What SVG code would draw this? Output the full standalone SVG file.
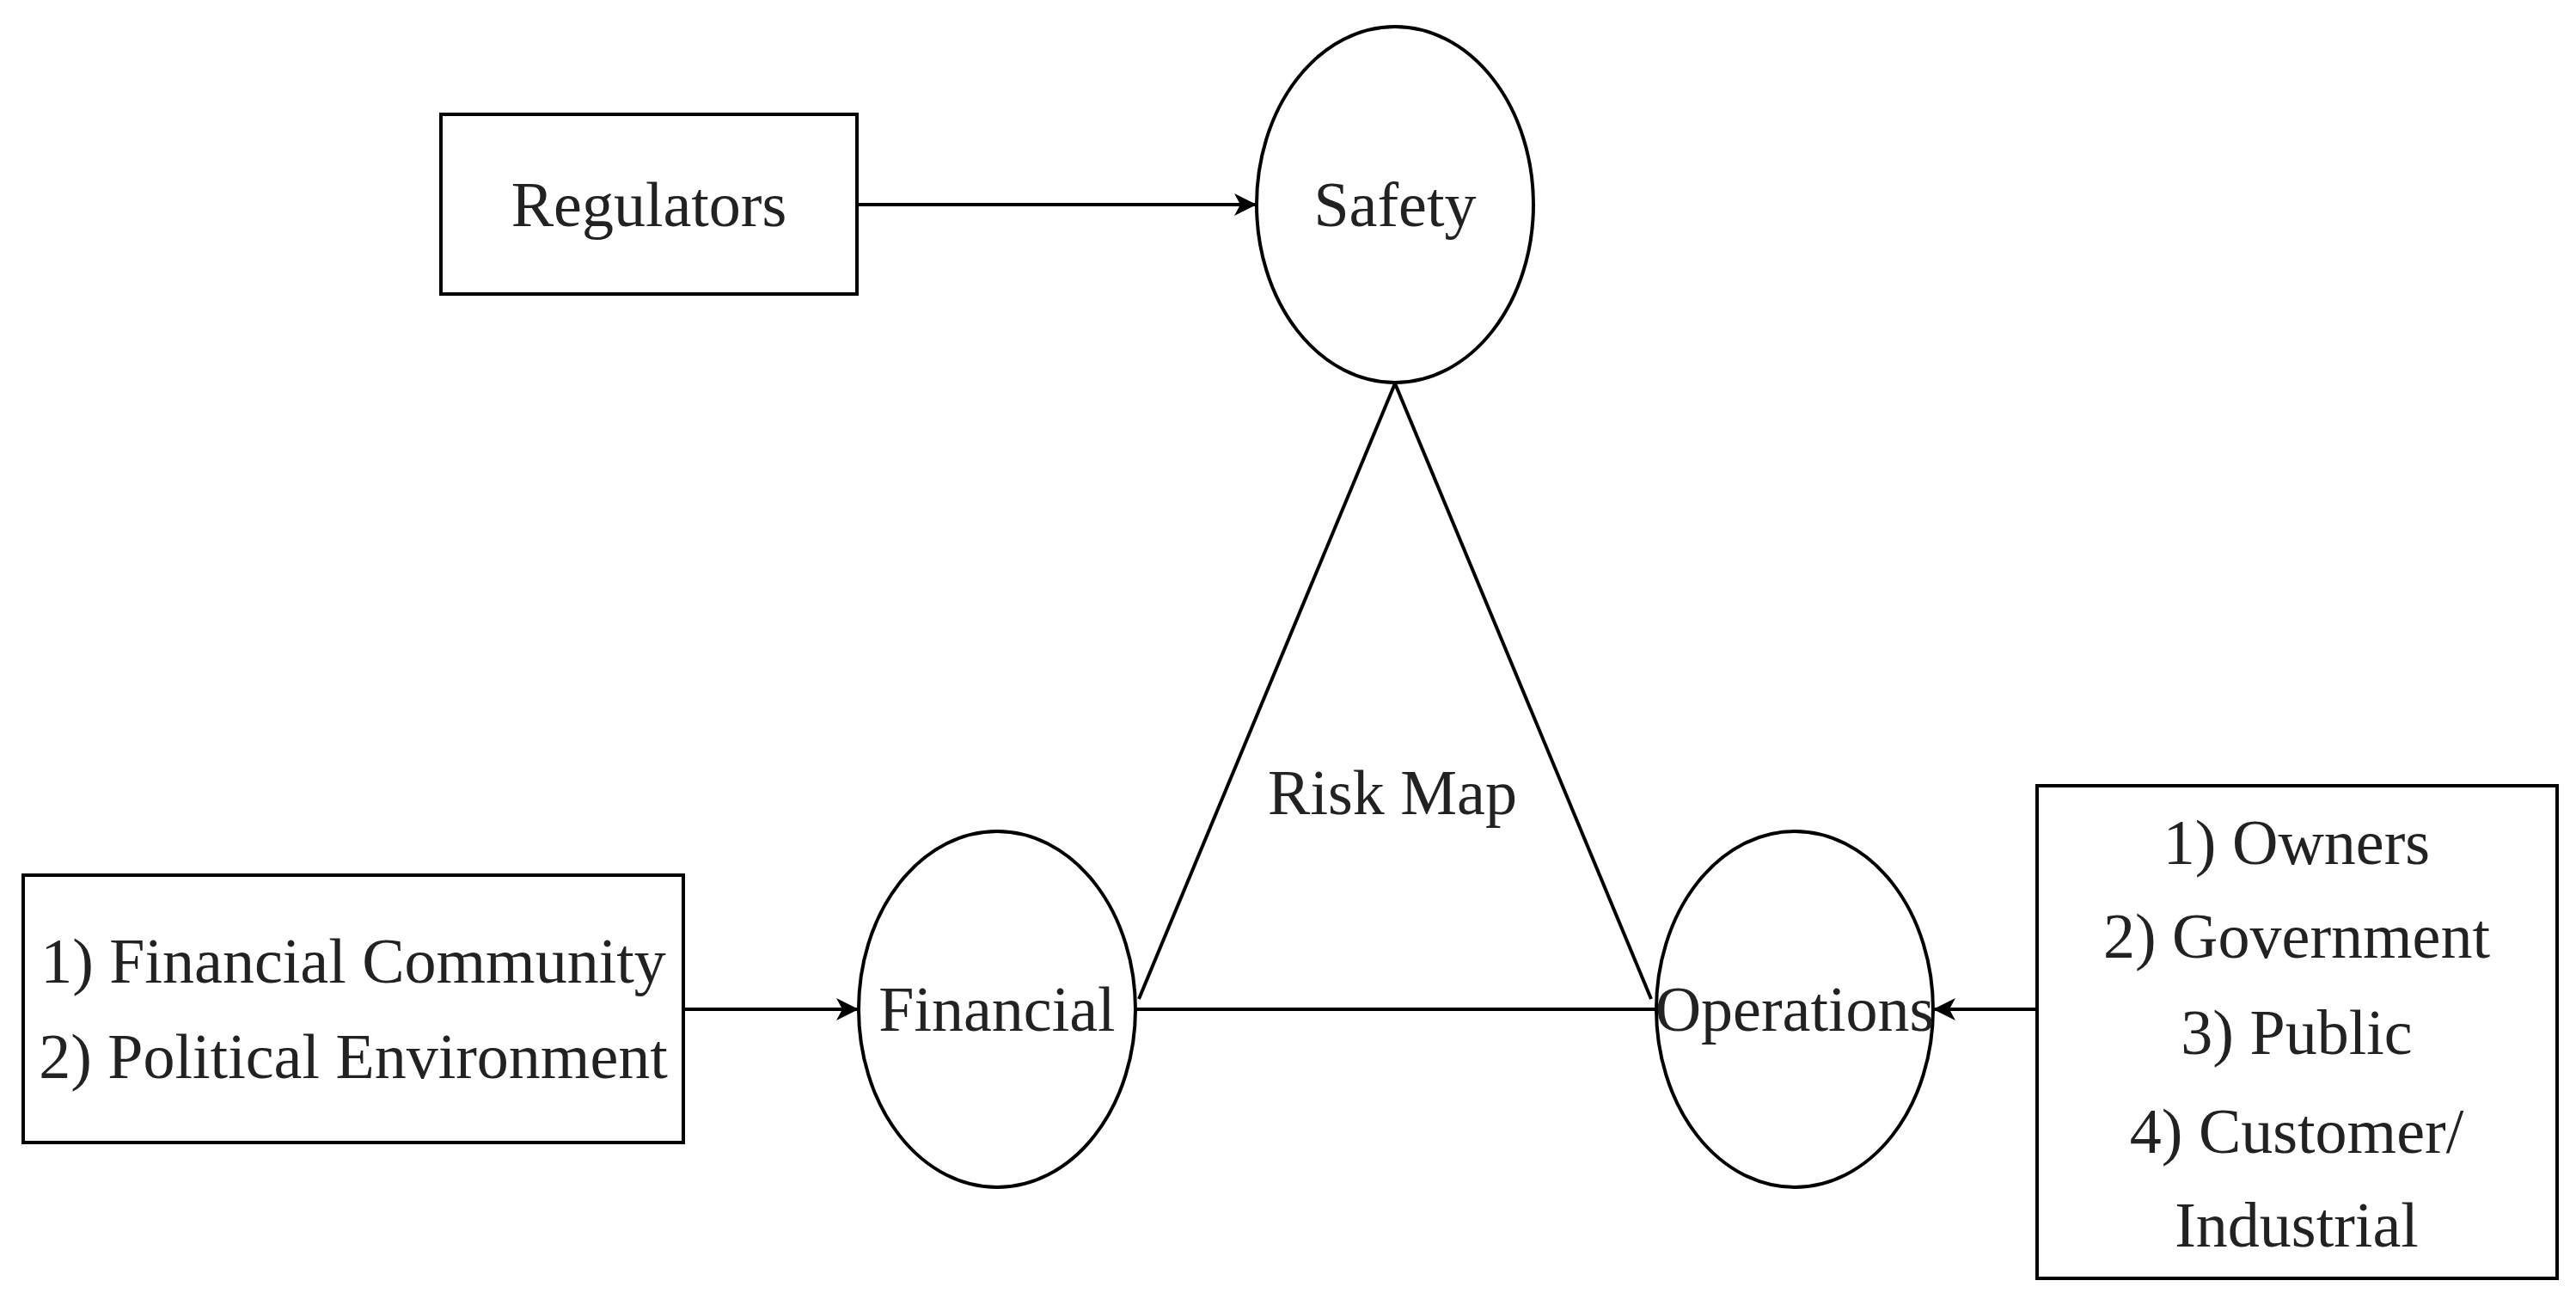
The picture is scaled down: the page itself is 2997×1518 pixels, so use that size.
<svg xmlns="http://www.w3.org/2000/svg" width="2997" height="1518" viewBox="0 0 2997 1518">
<style>
.n{fill:#fff;stroke:#000;stroke-width:4}
.t{font-family:"Liberation Serif",serif;font-size:74px;fill:#222;text-anchor:middle;dominant-baseline:central}
.c{stroke:#000;stroke-width:4;fill:none}
</style>
<defs><marker id="a" markerWidth="10" markerHeight="10" refX="9" refY="5" orient="auto" markerUnits="userSpaceOnUse" viewBox="0 0 10 10"><path d="M0,0 L10,5 L0,10 L3,5 Z" fill="#000" transform="scale(1)"/></marker>
<marker id="b" markerWidth="26" markerHeight="26" refX="24" refY="13" orient="auto" markerUnits="userSpaceOnUse"><path d="M0,0 L26,13 L0,26 L7,13 Z" fill="#000"/></marker></defs>
<rect width="2997" height="1518" fill="#fff"/>
<g id="connectors">
<line class="c" x1="1623" y1="446" x2="1325" y2="1162"/>
<line class="c" x1="1623" y1="446" x2="1921" y2="1162"/>
<line class="c" x1="1321" y1="1174" x2="1927" y2="1174"/>
<line class="c" x1="997" y1="238" x2="1460" y2="238" marker-end="url(#b)"/>
<line class="c" x1="795" y1="1174" x2="997" y2="1174" marker-end="url(#b)"/>
<line class="c" x1="2370" y1="1174" x2="2251" y2="1174" marker-end="url(#b)"/>
</g>
<g id="regulators"><rect class="n" x="513" y="133" width="484" height="209"/><text class="t" x="755" y="238">Regulators</text></g>
<g id="safety"><ellipse class="n" cx="1623" cy="238" rx="161" ry="207"/><text class="t" x="1623" y="238">Safety</text></g>
<g id="financial"><ellipse class="n" cx="1160" cy="1174" rx="161" ry="207"/><text class="t" x="1160" y="1174">Financial</text></g>
<g id="operations"><ellipse class="n" cx="2088" cy="1174" rx="161" ry="207"/><text class="t" x="2088" y="1174">Operations</text></g>
<g id="riskmap"><text class="t" x="1620" y="922">Risk Map</text></g>
<g id="leftbox"><rect class="n" x="27" y="1018" width="768" height="311"/><text class="t" x="411" y="1118">1) Financial Community</text><text class="t" x="411" y="1229">2) Political Environment</text></g>
<g id="rightbox"><rect class="n" x="2370" y="914" width="605" height="573"/>
<text class="t" x="2672" y="980">1) Owners</text><text class="t" x="2672" y="1089">2) Government</text><text class="t" x="2672" y="1201">3) Public</text><text class="t" x="2672" y="1316">4) Customer/</text><text class="t" x="2672" y="1425">Industrial</text></g>
</svg>
